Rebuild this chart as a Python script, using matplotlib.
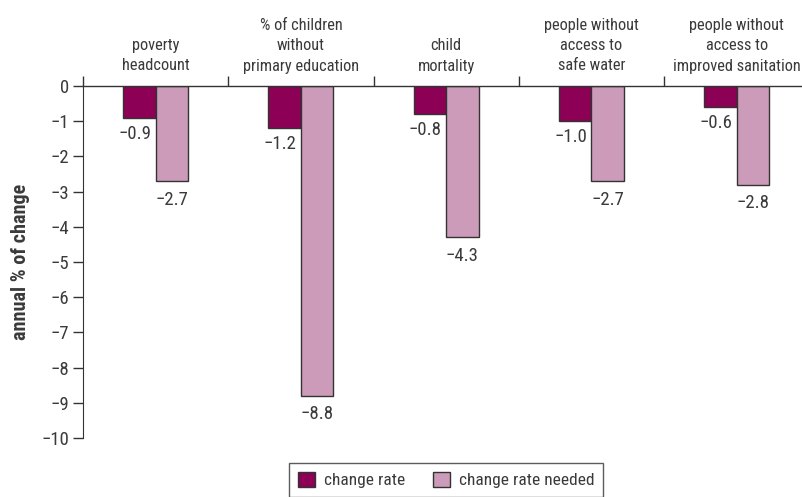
import matplotlib
matplotlib.use("Agg")
import matplotlib.pyplot as plt
import numpy as np

categories = ["poverty\nheadcount", "% of children\nwithout\nprimary education", "child\nmortality",
              "people without\naccess to\nsafe water", "people without\naccess to\nimproved sanitation"]
change_rate = [-0.9, -1.2, -0.8, -1.0, -0.6]
change_needed = [-2.7, -8.8, -4.3, -2.7, -2.8]
yticks = list(range(0, -11, -1))

plt.rcParams['font.family'] = ['Roboto Condensed', 'Liberation Sans Narrow', 'Liberation Sans', 'DejaVu Sans']
TXT = "#3a3a3a"
DARK = "#8c0055"
LIGHT = "#cc9bb9"
EDGE = "#333333"

fig = plt.figure(figsize=(8.02, 4.97), dpi=100)
ax = fig.add_axes([83 / 802, 1 - 438 / 497, 1 - 83 / 802, (438 - 86) / 497])

x = np.arange(len(categories)) + 0.5
w = 0.224
b1 = ax.bar(x - w / 2, change_rate, w, color=DARK, edgecolor=EDGE, linewidth=1, label="change rate")
b2 = ax.bar(x + w / 2, change_needed, w, color=LIGHT, edgecolor=EDGE, linewidth=1, label="change rate needed")

for xi, v in zip(x - w / 2, change_rate):
    ax.annotate(f"\u2212{abs(v):.1f}", (xi - 0.03, v), xytext=(0, -5), textcoords="offset points",
                ha="center", va="top", fontsize=13.5, color=TXT)
for xi, v in zip(x + w / 2, change_needed):
    ax.annotate(f"\u2212{abs(v):.1f}", (xi, v), xytext=(0, -7), textcoords="offset points",
                ha="center", va="top", fontsize=13.5, color=TXT)

ax.set_xlim(0, 4.95)
ax.set_ylim(-10, 0)
ax.set_yticks(yticks)
ax.set_yticklabels(["0"] + [f"\u2212{abs(t)}" for t in yticks[1:]], fontsize=13.5, color=TXT)
ax.tick_params(axis="y", length=7, width=1, color=EDGE, pad=3)

# category boundaries as ticks on the zero line, labels in between
ax.xaxis.tick_top()
ax.set_xticks(np.arange(0, 5))
ax.set_xticklabels([])
ax.set_xticks(x, minor=True)
ax.set_xticklabels(categories, minor=True, fontsize=11.8, color=TXT, linespacing=1.45)
ax.tick_params(axis="x", which="major", length=7, width=1, color=EDGE, direction="out")
ax.tick_params(axis="x", which="minor", length=0, pad=9)

for s in ["right", "bottom"]:
    ax.spines[s].set_visible(False)
ax.spines["left"].set_color(EDGE)
ax.spines["top"].set_color(EDGE)
ax.spines["top"].set_linewidth(1)

ax.set_ylabel("annual % of change", fontsize=14.5, fontweight="bold", color=TXT)
ax.yaxis.set_label_coords(-0.074, 0.5)

leg = fig.legend(handles=[b1, b2], loc="upper center", bbox_to_anchor=(446 / 802, 1 - 463 / 497),
                 ncol=2, frameon=True, fancybox=False, fontsize=12.5, handlelength=1.0, handleheight=1.0,
                 columnspacing=1.6, handletextpad=0.5, borderpad=0.5, borderaxespad=0)
leg.get_frame().set_edgecolor(EDGE)
leg.get_frame().set_linewidth(1)
for t in leg.get_texts():
    t.set_color(TXT)

fig.savefig("out.png", dpi=100)
